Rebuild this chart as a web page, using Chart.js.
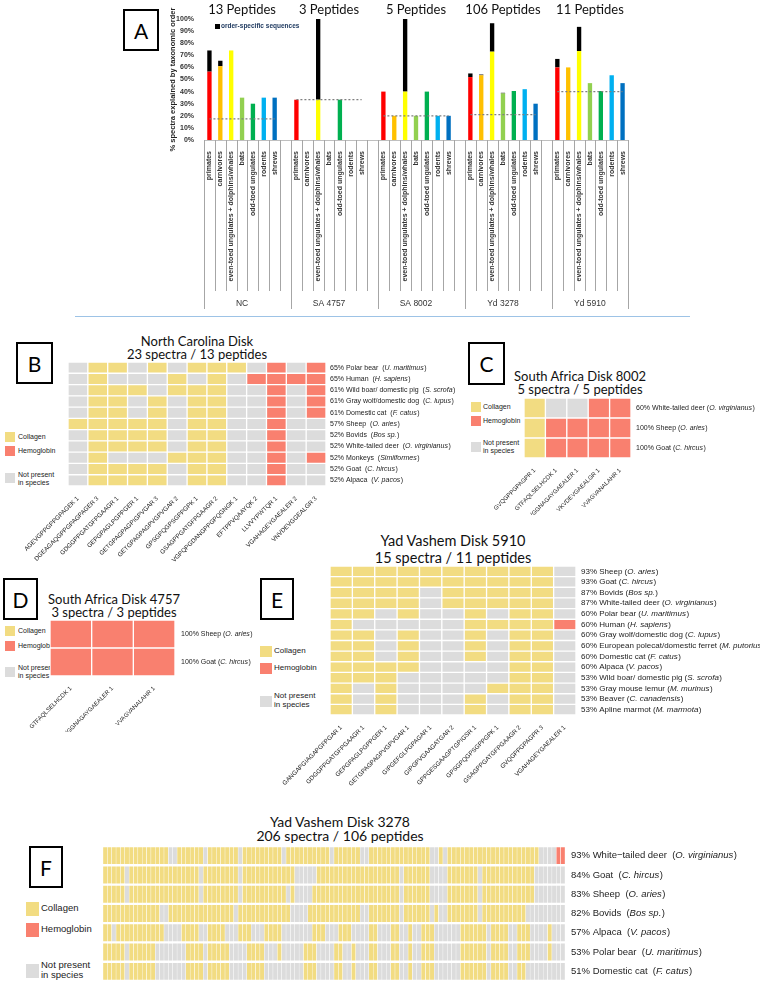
<!DOCTYPE html>
<html><head><meta charset="utf-8">
<script src="https://cdn.jsdelivr.net/npm/chart.js@4.4.1/dist/chart.umd.min.js"></script>
<style>
body{margin:0;background:#fff;width:760px;height:984px;position:relative;overflow:hidden;font-family:'Liberation Sans',Arial,sans-serif;color:#222;}
canvas{position:absolute;}
.box{position:absolute;border:2px solid #000;box-sizing:border-box;font-family:Lato,'Open Sans',sans-serif;font-size:21px;display:flex;align-items:center;justify-content:center;color:#000;}
.title{position:absolute;text-align:center;font-family:Lato,'Open Sans',sans-serif;color:#111;line-height:1.0;white-space:nowrap;}
.lt{position:absolute;white-space:nowrap;line-height:1.1;}
.sw{position:absolute;}
</style></head><body>

<div class="box" style="left:123px;top:9px;width:36px;height:42px;">A</div>
<div class="box" style="left:16px;top:342px;width:37px;height:42px;">B</div>
<div class="box" style="left:468px;top:342px;width:37px;height:43px;">C</div>
<div class="box" style="left:3px;top:578px;width:35px;height:42px;">D</div>
<div class="box" style="left:260px;top:578px;width:34px;height:42px;">E</div>
<div class="box" style="left:29px;top:846px;width:34px;height:42px;">F</div>

<div style="position:absolute;left:75px;top:316px;width:615px;height:1px;background:#9dc3e6;"></div>

<div class="title" style="left:47px;top:335px;width:300px;font-size:13px;">North Carolina Disk<br>23 spectra / 13 peptides</div>
<div class="title" style="left:430px;top:370px;width:300px;font-size:13px;">South Africa Disk 8002<br>5 spectra / 5 peptides</div>
<div class="title" style="left:-36px;top:593px;width:300px;font-size:13px;">South Africa Disk 4757<br>3 spectra / 3 peptides</div>
<div class="title" style="left:303px;top:532px;width:300px;font-size:14.5px;line-height:1.2;">Yad Vashem Disk 5910<br>15 spectra / 11 peptides</div>
<div class="title" style="left:190px;top:815px;width:300px;font-size:14px;line-height:1.0;">Yad Vashem Disk 3278<br>206 spectra / 106 peptides</div>

<!-- legends -->
<div class="sw" style="left:5px;top:432px;width:10px;height:10px;background:#F2DC82"></div>
<div class="lt" style="left:18px;top:433px;font-size:7px;">Collagen</div>
<div class="sw" style="left:5px;top:446px;width:10px;height:10px;background:#F9806F"></div>
<div class="lt" style="left:18px;top:447px;font-size:7px;">Hemoglobin</div>
<div class="sw" style="left:5px;top:473px;width:10px;height:10px;background:#DCDCDC"></div>
<div class="lt" style="left:18px;top:471px;font-size:7px;">Not present<br>in species</div>

<div class="sw" style="left:471px;top:402px;width:10px;height:10px;background:#F2DC82"></div>
<div class="lt" style="left:483px;top:403px;font-size:7px;">Collagen</div>
<div class="sw" style="left:471px;top:416px;width:10px;height:10px;background:#F9806F"></div>
<div class="lt" style="left:483px;top:417px;font-size:7px;">Hemoglobin</div>
<div class="sw" style="left:471px;top:442px;width:10px;height:10px;background:#DCDCDC"></div>
<div class="lt" style="left:483px;top:439px;font-size:7px;">Not present<br>in species</div>

<div class="sw" style="left:5px;top:626px;width:10px;height:10px;background:#F2DC82"></div>
<div class="lt" style="left:18px;top:627px;font-size:7px;">Collagen</div>
<div class="sw" style="left:5px;top:641px;width:10px;height:10px;background:#F9806F"></div>
<div class="lt" style="left:18px;top:642px;font-size:7px;">Hemoglobin</div>
<div class="sw" style="left:5px;top:667px;width:10px;height:10px;background:#DCDCDC"></div>
<div class="lt" style="left:18px;top:664px;font-size:7px;">Not present<br>in species</div>

<div class="sw" style="left:260px;top:646px;width:12px;height:11px;background:#F2DC82"></div>
<div class="lt" style="left:274px;top:647px;font-size:8px;">Collagen</div>
<div class="sw" style="left:260px;top:663px;width:12px;height:11px;background:#F9806F"></div>
<div class="lt" style="left:274px;top:664px;font-size:8px;">Hemoglobin</div>
<div class="sw" style="left:260px;top:696px;width:12px;height:11px;background:#DCDCDC"></div>
<div class="lt" style="left:274px;top:692px;font-size:8px;">Not present<br>in species</div>

<div class="sw" style="left:26px;top:902px;width:13px;height:14px;background:#F2DC82"></div>
<div class="lt" style="left:41px;top:903px;font-size:9.5px;">Collagen</div>
<div class="sw" style="left:26px;top:923px;width:13px;height:14px;background:#F9806F"></div>
<div class="lt" style="left:41px;top:924px;font-size:9.5px;">Hemoglobin</div>
<div class="sw" style="left:26px;top:964px;width:13px;height:14px;background:#DCDCDC"></div>
<div class="lt" style="left:41px;top:960px;font-size:9.5px;">Not present<br>in species</div>

<canvas id="cA" width="482" height="312" style="left:168px;top:0px;width:482px;height:312px;"></canvas>
<canvas id="cB" width="520" height="215" style="left:0px;top:355px;width:520px;height:215px;"></canvas>
<canvas id="cC" width="320" height="125" style="left:440px;top:390px;width:320px;height:125px;"></canvas>
<canvas id="cD" width="300" height="120" style="left:0px;top:612px;width:300px;height:120px;"></canvas>
<canvas id="cE" width="510" height="245" style="left:250px;top:558px;width:510px;height:245px;"></canvas>
<canvas id="cF" width="760" height="144" style="left:0px;top:840px;width:760px;height:144px;"></canvas>

<script>
// ---------------- Panel A data ----------------
const groupNames = ['NC', 'SA 4757', 'SA 8002', 'Yd 3278', 'Yd 5910'];
const groupTitles = ['13 Peptides', '3 Peptides', '5 Peptides', '106 Peptides', '11 Peptides'];
const orders = ['primates', 'carnivores', 'even-toed ungulates + dolphins/whales', 'bats', 'odd-toed ungulates', 'rodents', 'shrews'];
const orderColors = ['#FF0000', '#FFC000', '#FFFF00', '#92D050', '#00B050', '#00B0F0', '#0070C0'];
const baseNC     = [56.5, 61, 74, 35, 30, 35, 35];
const baseSA4757 = [33.3, 0, 33.3, 0, 33.3, 0, 0];
const baseSA8002 = [40, 20, 40, 20, 40, 20, 20];
const baseYd3278 = [52, 53.5, 73, 38.5, 40.5, 42, 30];
const baseYd5910 = [60, 60, 73.5, 47, 40.5, 53.5, 47];
const specNC     = [17.5, 4.5, 0, 0, 0, 0, 0];
const specSA4757 = [0, 0, 66.7, 0, 0, 0, 0];
const specSA8002 = [0, 0, 60, 0, 0, 0, 0];
const specYd3278 = [3, 0.6, 23.5, 0.5, 0, 0, 0];
const specYd5910 = [7, 0, 20, 0, 0, 0, 0];
const dottedLevels = [17.5, 33.3, 20, 21, 40];
const yTicksA = [0, 10, 20, 30, 40, 50, 60, 70, 80, 90, 100];

// ---------------- Heatmap data ----------------
const COLORS = {Y: '#F2DC82', R: '#F9806F', G: '#DCDCDC'};

const bCols = ['AGEVGPPGPPGPAGEK 1', 'DGEAGAQGPPGPAGPAGER 3', 'GDGGPPGATGFPGAAGR 1', 'GEPGPAGLPGPPGER 1',
  'GETGPAGPAGPIGPVGAR 3', 'GETGPAGPAGPVGPVGAR 2', 'GPSGPQGPSGPPGPK 1', 'GSAGPPGATGFPGAAGR 2',
  'VGPQPGDANGPPGPQGNGK 1', 'EFTPPVQAAYQK 2', 'LLVVYPWTQR 1', 'VGAHAGEYGAEALER 2', 'VNVDEVGGEALGR 3'];
const bPct = [65, 65, 61, 61, 61, 57, 52, 52, 52, 52, 52];
const bNames = ['Polar bear', 'Human', 'Wild boar/ domestic pig', 'Gray wolf/domestic dog', 'Domestic cat', 'Sheep', 'Bovids', 'White-tailed deer', 'Monkeys', 'Goat', 'Alpaca'];
const bLatin = ['U. maritimus', 'H. sapiens', 'S. scrofa', 'C. lupus', 'F. catus', 'O. aries', 'Bos sp.', 'O. virginianus', 'Simiiformes', 'C. hircus', 'V. pacos'];
const bCells = [
  'GYYGYGYYYGRGR',
  'GYGGGYGYGRRRR',
  'GYYYGYYYGGRGR',
  'GYYGYGYYGGRGR',
  'GYYGYGYYGGRGR',
  'YYYYYGYYGGRGG',
  'GYYYYGYYGGRGG',
  'GYYYYGYYGGRGG',
  'GYGGGYYYGGRGR',
  'GYYYYGYYGGRGG',
  'GYYYYGYYGGRGG'];

const cCols = ['GVQGPPGPAGPR 1', 'GTFAQLSELHCDK 1', 'VGGNAGAYGAEALER 1', 'VKVDEVGAEALGR 1', 'VVAGVANALAHR 1'];
const cPct = [60, 100, 100];
const cNames = ['White-tailed deer', 'Sheep', 'Goat'];
const cLatin = ['O. virginianus', 'O. aries', 'C. hircus'];
const cCells = ['YGGRR', 'YRRRR', 'YRRRR'];

const dCols = ['GTFAQLSELHCDK 1', 'VGGNAGAYGAEALER 1', 'VVAGVANALAHR 1'];
const dPct = [100, 100];
const dNames = ['Sheep', 'Goat'];
const dLatin = ['O. aries', 'C. hircus'];
const dCells = ['RRR', 'RRR'];

const eCols = ['GANGAPGIAGAPGFPGAR 1', 'GDGGPPGATGFPGAAGR 1', 'GEPGPAGLPGPPGER 1', 'GETGPAGPAGPVGPVGAR 1',
  'GIPGEFGLPGPAGAR 1', 'GIPGPVGAAGATGAR 2', 'GPPGESGAAGPTGPIGSR 1', 'GPSGPQGPSGPPGPK 1',
  'GSAGPPGATGFPGAAGR 2', 'GVQGPPGPAGPR 3', 'VGAHAGEYGAEALER 1'];
const ePct = [93, 93, 87, 87, 60, 60, 60, 60, 60, 60, 53, 53, 53, 53];
const eNames = ['Sheep', 'Goat', 'Bovids', 'White-tailed deer', 'Polar bear', 'Human', 'Gray wolf/domestic dog',
  'European polecat/domestic ferret', 'Domestic cat', 'Alpaca', 'Wild boar/ domestic pig', 'Gray mouse lemur', 'Beaver', 'Apline marmot'];
const eLatin = ['O. aries', 'C. hircus', 'Bos sp.', 'O. virginianus', 'U. maritimus', 'H. sapiens', 'C. lupus',
  'M. putorius', 'F. catus', 'V. pacos', 'S. scrofa', 'M. murinus', 'C. canadensis', 'M. marmota'];
const eCells = [
  'YYYYYYYYYYG',
  'YYYYYYYYYYG',
  'YYYYGYYYYYG',
  'YYYYGYYYYYG',
  'YYGYGGYGYYG',
  'YGGGGGYYYYR',
  'YYGYGGYGYYG',
  'YYGYGGYGYYG',
  'YYGYGGYGYYG',
  'YYYYGGGGYYG',
  'YYYGGGGGYYG',
  'YGYGGGGYYYG',
  'YGYGGGYGYYG',
  'YGYGGGYGYYG'];

// Panel F: 106 peptide columns per species row, written as runs (state + count), left to right
const fPct = [93, 84, 83, 82, 57, 53, 51];
const fNames = ['White\u2212tailed deer', 'Goat', 'Sheep', 'Bovids', 'Alpaca', 'Polar bear', 'Domestic cat'];
const fLatin = ['O. virginianus', 'C. hircus', 'O. aries', 'Bos sp.', 'V. pacos', 'U. maritimus', 'F. catus'];
const fRuns = [
  'Y15 G2 Y6 G1 Y7 G1 Y9 G1 Y10 G1 Y6 G2 Y14 G2 Y1 G1 Y21 G4 R2',
  'Y5 G1 Y16 G1 Y8 G1 Y12 G5 Y19 G1 Y6 G4 Y7 G1 Y12 G7',
  'Y5 G1 Y16 G1 Y8 G1 Y10 G1 Y1 G4 Y20 G1 Y6 G4 Y7 G1 Y12 G7',
  'Y13 G2 Y15 G1 Y12 G4 Y12 G2 Y7 G1 Y6 G1 Y1 G2 Y7 G1 Y10 G9',
  'Y2 G1 Y11 G4 Y4 G2 Y4 G3 Y3 G3 Y4 G7 Y3 G3 Y3 G4 Y2 G3 Y2 G2 Y1 G2 Y3 G6 Y6 G1 Y4 G2 Y3 G4 Y1 G3',
  'Y5 G1 Y6 G7 Y4 G1 Y5 G4 Y4 G3 Y1 G5 Y3 G4 Y2 G2 Y1 G3 Y2 G3 Y2 G2 Y1 G2 Y3 G6 Y6 G1 Y4 G2 Y3 G4 Y1 G3',
  'Y5 G1 Y6 G7 Y4 G1 Y5 G4 Y4 G9 Y3 G4 Y2 G2 Y1 G3 Y2 G3 Y2 G2 Y1 G2 Y3 G6 Y6 G1 Y4 G2 Y2 G9'];
const fCells = fRuns.map(r => r.split(' ').map(t => t[0].repeat(parseInt(t.slice(1), 10))).join(''));

Chart.defaults.font.family = "'Liberation Sans', Arial, sans-serif";
Chart.defaults.color = '#222';

// ---------------- Panel A ----------------
const baseVals = [baseNC, baseSA4757, baseSA8002, baseYd3278, baseYd5910];
const specVals = [specNC, specSA4757, specSA8002, specYd3278, specYd5910];
const slotLabels = [], baseData = [], specData = [], dotData = [], barColors = [], slotGroup = [];
groupNames.forEach((g, gi) => {
  orders.forEach((o, oi) => {
    slotLabels.push(o); baseData.push(baseVals[gi][oi]); specData.push(specVals[gi][oi]);
    dotData.push(dottedLevels[gi]); barColors.push(orderColors[oi]); slotGroup.push(gi);
  });
  if (gi < groupNames.length - 1) {
    slotLabels.push(''); baseData.push(null); specData.push(null); dotData.push(null); barColors.push('#fff'); slotGroup.push(-1);
  }
});

const aDeco = {
  id: 'aDeco',
  afterDraw(chart) {
    const {ctx, chartArea: ca, scales: {x}} = chart;
    const n = slotLabels.length;
    const half = (x.getPixelForValue(1) - x.getPixelForValue(0)) / 2;
    ctx.save();
    ctx.strokeStyle = '#a6a6a6'; ctx.lineWidth = 1;
    for (let i = 0; i <= n; i++) {
      const px = Math.round((i < n ? x.getPixelForValue(i) - half : x.getPixelForValue(n - 1) + half)) + 0.5;
      const long = (i === 0 || i === n || slotLabels[i - 1] === '');
      ctx.beginPath(); ctx.moveTo(px, ca.bottom); ctx.lineTo(px, ca.bottom + (long ? 169 : 151)); ctx.stroke();
    }
    groupNames.forEach((g, gi) => {
      const idx = slotGroup.map((v, i) => v === gi ? i : -1).filter(i => i >= 0);
      const cx = (x.getPixelForValue(idx[0]) + x.getPixelForValue(idx[idx.length - 1])) / 2;
      ctx.fillStyle = '#333'; ctx.textAlign = 'center'; ctx.textBaseline = 'middle';
      ctx.font = "8.5px 'Liberation Sans', Arial, sans-serif";
      ctx.fillText(g, cx, ca.bottom + 164);
      ctx.fillStyle = '#111';
      ctx.font = "13px Lato, 'Open Sans', sans-serif";
      ctx.fillText(groupTitles[gi], cx, ca.top - 9);
    });
    ctx.fillStyle = '#000';
    ctx.fillRect(ca.left + 11, ca.top + 5, 5, 5);
    ctx.fillStyle = '#1f3a60';
    ctx.textAlign = 'left'; ctx.textBaseline = 'middle';
    ctx.font = "bold 6.5px 'Liberation Sans', Arial, sans-serif";
    ctx.fillText('order-specific sequences', ca.left + 17, ca.top + 7.5);
    ctx.restore();
  }
};

new Chart(document.getElementById('cA'), {
  data: {
    labels: slotLabels,
    datasets: [
      {type: 'bar', data: baseData, backgroundColor: barColors, stack: 'bars', barPercentage: 0.4, categoryPercentage: 1, order: 2},
      {type: 'bar', data: specData, backgroundColor: '#000', stack: 'bars', barPercentage: 0.4, categoryPercentage: 1, order: 2},
      {type: 'line', data: dotData, stack: 'dots', borderColor: '#7f7f7f', borderWidth: 1.3, borderDash: [2, 2],
       pointRadius: 0, spanGaps: false, fill: false, order: 1}
    ]
  },
  options: {
    responsive: false, animation: false,
    layout: {padding: {top: 19, right: 22, left: 0, bottom: 0}},
    plugins: {legend: {display: false}, tooltip: {enabled: false}},
    scales: {
      x: {stacked: true, grid: {display: false}, border: {display: true, color: '#bfbfbf'},
          ticks: {autoSkip: false, minRotation: 90, maxRotation: 90, padding: 3, color: '#333',
                  font: {size: 7, weight: 'bold'}},
          afterFit: s => { s.height = 172; }},
      y: {stacked: true, min: 0, max: 100, grid: {display: false}, border: {display: false},
          afterBuildTicks: s => { s.ticks = yTicksA.map(v => ({value: v})); },
          ticks: {callback: v => v + '%', padding: 2, color: '#333', font: {size: 7, weight: 'bold'}},
          title: {display: true, text: '% spectra explained by taxonomic order', color: '#222',
                  font: {size: 7.5, weight: 'bold'}, padding: {top: 0, bottom: 2}},
          afterFit: s => { s.width = 36; }}
    }
  },
  plugins: [aDeco]
});

// ---------------- Heatmaps ----------------
function heatmap(id, o) {
  const nR = o.cells.length;
  const rows = o.cells.map(r => r.replace(/\s/g, '').split(''));
  const labels = o.cols || rows[0].map((c, i) => String(i + 1));
  const datasets = [];
  for (let r = nR - 1; r >= 0; r--) {
    datasets.push({
      data: rows[r].map(() => 1),
      backgroundColor: rows[r].map(c => COLORS[c]),
      borderColor: '#fff',
      borderWidth: {top: o.vg, bottom: o.vg, left: o.hg, right: o.hg},
      borderSkipped: false, barPercentage: 1, categoryPercentage: 1, stack: 'm'
    });
  }
  const rowLabels = {
    id: 'rowLabels',
    afterDraw(chart) {
      const {ctx, chartArea: ca, scales: {y}} = chart;
      ctx.save();
      ctx.fillStyle = '#222'; ctx.textBaseline = 'middle'; ctx.textAlign = 'left';
      const fam = "'Liberation Sans', Arial, sans-serif";
      for (let r = 0; r < nR; r++) {
        const py = y.getPixelForValue(nR - r - 0.5);
        let px = ca.right + o.gap;
        const parts = [[o.pct[r] + '% ' + o.names[r] + o.sep + '(', false], [o.latin[r], true], [o.close, false]];
        parts.forEach(([t, it]) => {
          ctx.font = (it ? 'italic ' : '') + o.rfs + 'px ' + fam;
          ctx.fillText(t, px, py);
          px += ctx.measureText(t).width + (it ? 0.5 : 0);
        });
      }
      ctx.restore();
    }
  };
  new Chart(document.getElementById(id), {
    type: 'bar',
    data: {labels, datasets},
    options: {
      responsive: false, animation: false,
      layout: {padding: o.pad},
      plugins: {legend: {display: false}, tooltip: {enabled: false}},
      scales: {
        x: {stacked: true, display: o.showX, grid: {display: false}, border: {display: false},
            ticks: {autoSkip: false, minRotation: 45, maxRotation: 45, padding: 1, color: '#222', font: {size: o.xfs}},
            afterFit: s => { s.height = o.xh; }},
        y: {stacked: true, display: false, min: 0, max: nR}
      }
    },
    plugins: [rowLabels]
  });
}

heatmap('cB', {cells: bCells, cols: bCols, pct: bPct, names: bNames, latin: bLatin, sep: '  ', close: ')',
  pad: {left: 68, top: 7, right: 194, bottom: 0}, xh: 84, showX: true, xfs: 6.2, rfs: 7, gap: 4, vg: 1, hg: 1});
heatmap('cC', {cells: cCells, cols: cCols, pct: cPct, names: cNames, latin: cLatin, sep: ' ', close: ')',
  pad: {left: 84, top: 8, right: 129, bottom: 0}, xh: 57, showX: true, xfs: 6, rfs: 7, gap: 5, vg: 1, hg: 1});
heatmap('cD', {cells: dCells, cols: dCols, pct: dPct, names: dNames, latin: dLatin, sep: ' ', close: ')',
  pad: {left: 50, top: 8, right: 125, bottom: 0}, xh: 56, showX: true, xfs: 6, rfs: 7, gap: 6, vg: 1, hg: 1});
heatmap('cE', {cells: eCells, cols: eCols, pct: ePct, names: eNames, latin: eLatin, sep: ' ', close: ')',
  pad: {left: 80, top: 8, right: 184, bottom: 0}, xh: 88, showX: true, xfs: 6.2, rfs: 8, gap: 5, vg: 1, hg: 1});
heatmap('cF', {cells: fCells, cols: null, pct: fPct, names: fNames, latin: fLatin, sep: '  ', close: ')',
  pad: {left: 103, top: 6, right: 195, bottom: 3}, xh: 0, showX: false, xfs: 6, rfs: 9.5, gap: 6, vg: 1.5, hg: 0.5});
</script>
</body></html>
